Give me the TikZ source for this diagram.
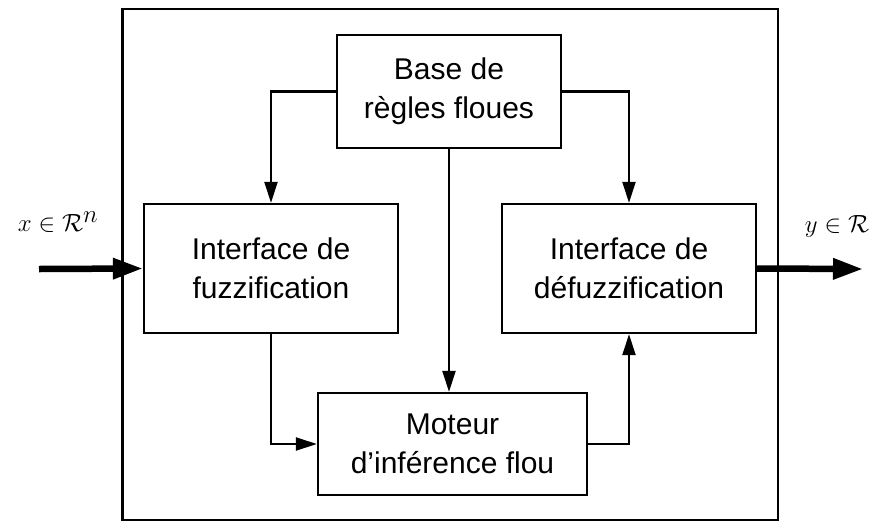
\documentclass[tikz,border=0pt]{standalone}
\usepackage{fontspec}
\setmainfont{Liberation Sans}
\usetikzlibrary{arrows.meta}

\tikzset{
  block/.style={draw=black, line width=2.3pt, fill=white, align=center,
    inner sep=0pt, font=\fontsize{30}{39}\selectfont},
  frame/.style={draw=black, line width=2.3pt, inner sep=0pt},
  flow/.style={draw=black, line width=2.2pt,
    -{Triangle[length=21pt,width=13pt]}},
  signal/.style={draw=black, line width=6.5pt,
    -{Triangle[length=30pt,width=20pt]}},
  sigtext/.style={inner sep=0pt, font=\fontsize{35}{40}\selectfont}
}

\begin{document}
\begin{tikzpicture}[x=1pt,y=-1pt]
  \useasboundingbox (0,0) rectangle (879,523);

  % enclosing controller frame
  \node[frame, minimum width=655.5pt, minimum height=511pt] (sys) at (450.25,264.5) {};

  % functional blocks
  \node[block, minimum width=224pt, minimum height=113pt] (base) at (449,91.5)
    {Base de\\règles floues};
  \node[block, minimum width=254pt, minimum height=129pt] (fuzz) at (271,268.5)
    {Interface de\\fuzzification};
  \node[block, minimum width=254pt, minimum height=129pt] (defuzz) at (629,268.5)
    {Interface de\\défuzzification};
  \node[block, minimum width=269pt, minimum height=102pt] (engine) at (452.5,444)
    {Moteur\\d’inférence flou};

  % rule base feeds the three other blocks
  \draw[flow] (base.west) -| (fuzz.north);
  \draw[flow] (base.east) -| (defuzz.north);
  \draw[flow] (base.south) -- (base.south |- engine.north);

  % main processing chain
  \draw[flow] (fuzz.south) |- (engine.west);
  \draw[flow] (engine.east) -| (defuzz.south);

  % external input and output signals
  \coordinate (xin) at (39,269);
  \coordinate (yout) at (863,269);
  \draw[signal] (xin) -- (fuzz.west);
  \draw[signal] (defuzz.east) -- (yout);

  \node[sigtext] (xlabel) at (58,222) {$x \in \mathcal{R}^n$};
  \node[sigtext] (ylabel) at (837,226) {$y \in \mathcal{R}$};
\end{tikzpicture}
\end{document}
